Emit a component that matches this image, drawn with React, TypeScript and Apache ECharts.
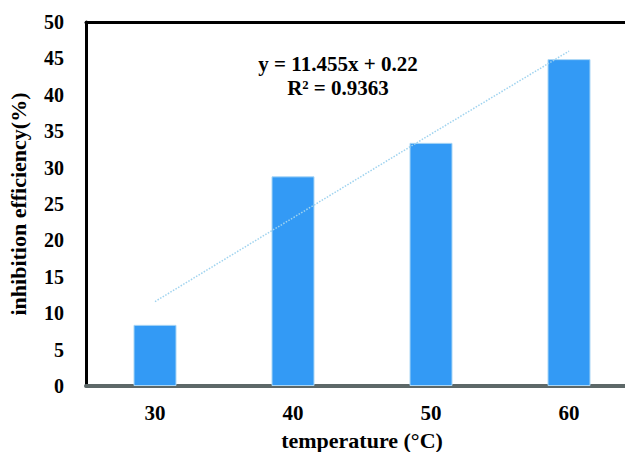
import React, { useEffect, useRef } from "react";
import * as echarts from "echarts";

const categories = ["30", "40", "50", "60"];
const efficiency = [8.4, 28.8, 33.4, 44.9];
const trendline = [11.6, 23.1, 34.6, 46.0];
const yTicks = { min: 0, max: 50, interval: 5 };
const equationLines = ["y = 11.455x + 0.22", "R² = 0.9363"];

const FONT = "Liberation Serif, serif";

export default function App() {
  const ref = useRef<HTMLDivElement>(null);
  useEffect(() => {
    if (!ref.current) return;
    const chart = echarts.init(ref.current, undefined, { renderer: "svg" });
    chart.setOption({
      animation: false,
      backgroundColor: "#ffffff",
      grid: {
        left: 86,
        top: 22,
        bottom: 66,
        width: 552,
        containLabel: false,
        outerBoundsMode: "none",
      },
      xAxis: [
        {
          type: "category",
          data: categories,
          position: "bottom",
          axisLine: { show: true, lineStyle: { color: "#5d6868", width: 4 } },
          axisTick: { show: false },
          axisLabel: {
            color: "#000",
            fontFamily: FONT,
            fontWeight: "bold",
            fontSize: 21,
            margin: 16,
          },
          name: "temperature (°C)",
          nameLocation: "middle",
          nameGap: 43,
          nameTextStyle: {
            color: "#000",
            fontFamily: FONT,
            fontWeight: "bold",
            fontSize: 22,
          },
        },
        {
          type: "category",
          data: categories,
          position: "top",
          axisLine: { show: true, lineStyle: { color: "#000", width: 3 } },
          axisTick: { show: false },
          axisLabel: { show: false },
        },
      ],
      yAxis: {
        type: "value",
        min: yTicks.min,
        max: yTicks.max,
        interval: yTicks.interval,
        axisLine: { show: true, lineStyle: { color: "#000", width: 3 } },
        axisTick: { show: false },
        splitLine: { show: false },
        axisLabel: {
          color: "#000",
          fontFamily: FONT,
          fontWeight: "bold",
          fontSize: 20,
          margin: 22,
        },
        name: "inhibition efficiency(%)",
        nameLocation: "middle",
        nameGap: 57,
        nameTextStyle: {
          color: "#000",
          fontFamily: FONT,
          fontWeight: "bold",
          fontSize: 22,
        },
      },
      series: [
        {
          type: "bar",
          data: efficiency,
          barWidth: 43,
          itemStyle: { color: "#339af5", borderColor: "#a9d6f5", borderWidth: 1 },
        },
        {
          type: "line",
          data: trendline,
          symbol: "none",
          lineStyle: { color: "#9fd3ef", width: 1.5, type: "dotted" },
          z: 5,
        },
      ],
      graphic: [
        {
          type: "text",
          x: 338,
          y: 64,
          style: {
            text: equationLines[0],
            fill: "#000",
            font: `bold 21px ${FONT}`,
            textAlign: "center",
            textVerticalAlign: "middle",
          },
        },
        {
          type: "text",
          x: 338,
          y: 88,
          style: {
            text: equationLines[1],
            fill: "#000",
            font: `bold 21px ${FONT}`,
            textAlign: "center",
            textVerticalAlign: "middle",
          },
        },
      ],
    });
    return () => chart.dispose();
  }, []);
  return (
    <div
      ref={ref}
      style={{ width: 625, height: 452, position: "absolute", left: 0, top: 0 }}
    />
  );
}
